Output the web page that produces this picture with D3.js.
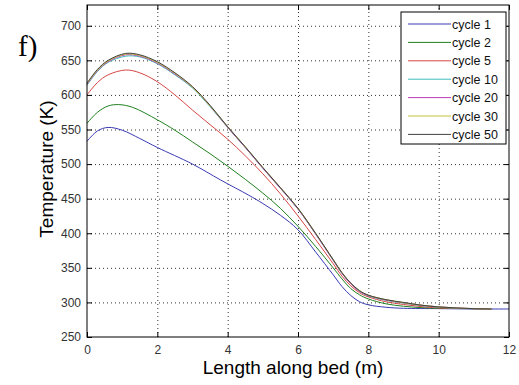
<!DOCTYPE html>
<html>
<head>
<meta charset="utf-8">
<script src="https://cdn.jsdelivr.net/npm/d3@7"></script>
<style>
body { margin: 0; background: #fff; }
svg { display: block; font-family: Arial, "Liberation Sans", sans-serif; }
</style>
</head>
<body>
<div class="container"></div>
<script>
// data
const seriesNames = ["cycle 1", "cycle 2", "cycle 5", "cycle 10", "cycle 20", "cycle 30", "cycle 50"]
const seriesColors = ["#3a3ab4", "#1f801f", "#d84545", "#3cbcbc", "#bc3cbc", "#c4c43a", "#404040"]

const xCycle1 = [0, 0.3, 0.6, 1, 1.5, 2, 3, 3.8, 4.6, 5, 5.5, 6, 6.5, 7, 7.25, 7.5, 7.75, 8, 8.5, 9, 10, 11, 12]
const tCycle1 = [533, 548, 553, 549, 537, 524, 500, 477, 455, 443, 426, 405, 373, 340, 323, 310, 301, 296.5, 293, 291.5, 291, 290.5, 290.5]

const xCycle2 = [0, 0.3, 0.6, 0.9, 1.3, 2, 2.5, 3, 3.5, 4, 4.5, 5, 5.5, 6, 6.5, 7, 7.25, 7.5, 7.75, 8, 8.5, 9, 9.5, 10, 11, 11.5]
const tCycle2 = [559, 575, 584, 586, 582, 564, 549, 532, 515, 497, 478, 458, 436, 410, 381, 350, 334, 320, 311, 305, 298, 294.5, 292.5, 291.5, 291, 290.5]

const xCycle5 = [0, 0.3, 0.6, 1.1, 1.5, 2, 2.5, 3, 3.5, 4, 4.5, 5, 5.5, 6, 6.5, 7, 7.25, 7.5, 7.75, 8, 8.5, 9, 9.5, 10, 11, 11.5]
const tCycle5 = [600, 618, 629, 636, 632, 619, 600, 578, 557, 536, 512, 486, 457, 425, 391, 356, 338, 324, 314, 308, 301, 297, 294, 292, 291, 290.5]

const xCycleLate = [0, 0.3, 0.6, 1.1, 1.5, 2, 2.5, 3, 3.5, 4, 4.5, 5, 5.5, 6, 6.5, 7, 7.25, 7.5, 7.75, 8, 8.5, 9, 9.5, 10, 10.5, 11, 11.5]
const tCycle10 = [614, 634, 647, 656, 655, 645, 629, 610, 583, 553, 524, 494, 465, 435, 399, 361, 342, 327, 316, 309.5, 303, 299, 295.5, 293, 291.5, 291, 290.5]
const tCycle20 = [615, 635, 648, 658, 656, 646, 630, 611, 584, 553, 524, 494, 465, 435, 399, 361, 342, 327, 316, 310, 303.5, 299.5, 296, 293.5, 292, 291, 290.5]
const tCycle30 = [616, 636, 649, 659, 657, 647, 631, 611, 584, 554, 525, 495, 466, 436, 400, 362, 343, 328, 317, 310.5, 304, 299.5, 296, 293.5, 292, 291, 290.5]
const tCycle50 = [617, 637, 650, 660, 658, 648, 632, 612, 585, 554, 525, 495, 466, 436, 400, 362, 343, 328, 317, 310.5, 304, 300, 296, 293.5, 292, 291, 290.5]

const xTicks = [0, 2, 4, 6, 8, 10, 12]
const yTicks = [250, 300, 350, 400, 450, 500, 550, 600, 650, 700]

const series = [
    [xCycle1, tCycle1],
    [xCycle2, tCycle2],
    [xCycle5, tCycle5],
    [xCycleLate, tCycle10],
    [xCycleLate, tCycle20],
    [xCycleLate, tCycle30],
    [xCycleLate, tCycle50]
]

const w = 519
const h = 385
const plotLeft = 87, plotRight = 509, plotTop = 5, plotBottom = 337

const svg = d3.select(".container").append("svg")
    .attr("width", w)
    .attr("height", h)

const xScale = d3.scaleLinear().domain([0, 12]).range([plotLeft, plotRight])
const yScale = d3.scaleLinear().domain([250, 730]).range([plotBottom, plotTop])

// dotted grid
svg.append("g")
    .attr("transform", "translate(0," + plotBottom + ")")
    .call(d3.axisBottom(xScale).tickValues(xTicks.slice(1, -1)).tickSize(-(plotBottom - plotTop)).tickFormat(""))
    .call(g => g.select(".domain").remove())
    .call(g => g.selectAll("line").attr("stroke", "#333").attr("stroke-dasharray", "1,3"))
svg.append("g")
    .attr("transform", "translate(" + plotLeft + ",0)")
    .call(d3.axisLeft(yScale).tickValues(yTicks.slice(1)).tickSize(-(plotRight - plotLeft)).tickFormat(""))
    .call(g => g.select(".domain").remove())
    .call(g => g.selectAll("line").attr("stroke", "#333").attr("stroke-dasharray", "1,3"))

// curves
const line = d3.line()
    .x(d => xScale(d[0]))
    .y(d => yScale(d[1]))
    .curve(d3.curveCatmullRom.alpha(0.5))

series.forEach((s, i) => {
    const pts = s[0].map((x, j) => [x, s[1][j]])
    svg.append("path")
        .datum(pts)
        .attr("fill", "none")
        .attr("stroke", seriesColors[i])
        .attr("stroke-width", 1)
        .attr("d", line)
})

// axes, ticks inside like matlab
const styleAxis = g => {
    g.select(".domain").remove()
    g.selectAll("line").attr("stroke", "#000")
    g.selectAll("text").attr("fill", "#333").style("font-size", "12px")
}
svg.append("g")
    .attr("transform", "translate(0," + plotBottom + ")")
    .call(d3.axisBottom(xScale).tickValues(xTicks).tickSizeInner(-5).tickSizeOuter(0).tickPadding(8))
    .call(styleAxis)
svg.append("g")
    .attr("transform", "translate(0," + plotTop + ")")
    .call(d3.axisTop(xScale).tickValues(xTicks).tickSizeInner(-5).tickSizeOuter(0).tickFormat(""))
    .call(styleAxis)
svg.append("g")
    .attr("transform", "translate(" + plotLeft + ",0)")
    .call(d3.axisLeft(yScale).tickValues(yTicks).tickSizeInner(-5).tickSizeOuter(0).tickPadding(6))
    .call(styleAxis)
svg.append("g")
    .attr("transform", "translate(" + plotRight + ",0)")
    .call(d3.axisRight(yScale).tickValues(yTicks).tickSizeInner(-5).tickSizeOuter(0).tickFormat(""))
    .call(styleAxis)

svg.append("rect")
    .attr("x", plotLeft).attr("y", plotTop)
    .attr("width", plotRight - plotLeft).attr("height", plotBottom - plotTop)
    .attr("fill", "none").attr("stroke", "#000").attr("stroke-width", 1)

// labels
svg.append("text")
    .attr("transform", "translate(53,169) rotate(-90)")
    .attr("text-anchor", "middle")
    .style("font-size", "19px")
    .text("Temperature (K)")
svg.append("text")
    .attr("x", 293)
    .attr("y", 374)
    .attr("text-anchor", "middle")
    .style("font-size", "19px")
    .text("Length along bed (m)")
svg.append("text")
    .attr("x", 18)
    .attr("y", 56)
    .style("font-family", "'Liberation Serif', 'Times New Roman', serif")
    .style("font-size", "29px")
    .text("f)")

// legend
const legend = svg.append("g")
legend.append("rect")
    .attr("x", 401).attr("y", 12)
    .attr("width", 105).attr("height", 132)
    .attr("fill", "#fff").attr("stroke", "#000")
seriesNames.forEach((name, i) => {
    const y = 24 + i * 18.4
    legend.append("line")
        .attr("x1", 408).attr("x2", 451)
        .attr("y1", y).attr("y2", y)
        .attr("stroke", seriesColors[i])
        .attr("stroke-width", 1)
    legend.append("text")
        .attr("x", 452).attr("y", y + 4.5)
        .style("font-size", "12.5px")
        .attr("fill", "#111")
        .text(name)
})
</script>
</body>
</html>
